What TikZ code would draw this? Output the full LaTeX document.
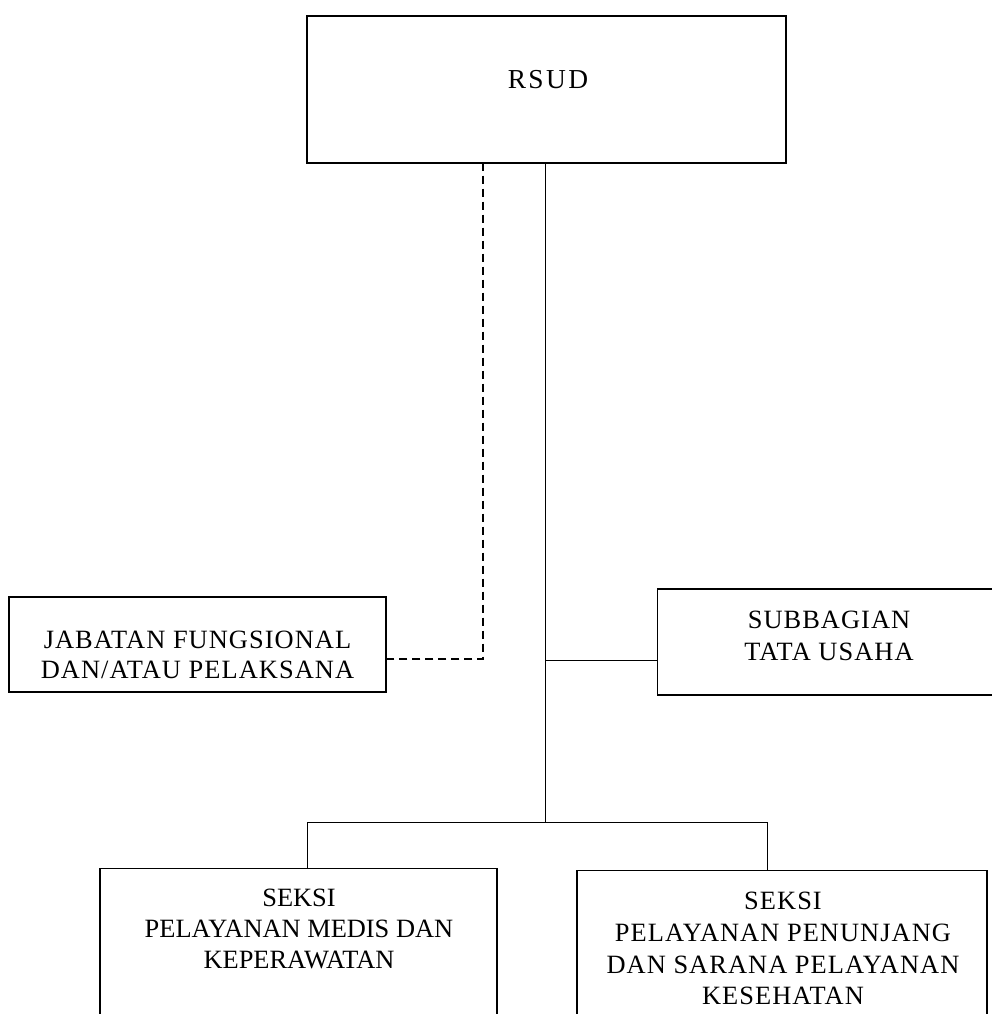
\documentclass[tikz,border=0pt]{standalone}
\usepackage{fontspec}
\setmainfont{Liberation Serif}
\newfontfamily\widefont[LetterSpace=4]{Liberation Serif}
\newfontfamily\rsudfont[LetterSpace=9]{Liberation Serif}
\newfontfamily\narrowfont{Liberation Serif}
\begin{document}
\begin{tikzpicture}[x=1bp,y=-1bp,
  box/.style={draw=black, line width=1.6bp, inner sep=0pt, outer sep=0pt, fill=none},
  txt/.style={inner sep=0pt, align=center, font=\widefont\fontsize{26.5}{32}\selectfont},
  ntxt/.style={inner sep=0pt, align=center, font=\narrowfont\fontsize{26.5}{31}\selectfont},
  conn/.style={draw=black, line width=1bp},
  dconn/.style={draw=black, line width=1.4bp, dash pattern=on 8bp off 5bp}]
\useasboundingbox (0,0) rectangle (992,1014);
\clip (0,0) rectangle (992,1014);
\fill[white] (0,0) rectangle (992,1014);
% boxes
\node[box, minimum width=481, minimum height=147] (rsud) at (546.5,89.5) {};
\node[box, minimum width=379, minimum height=95] (jf) at (197.5,644.5) {};
\node[box, minimum width=344, minimum height=106] (tu) at (829,642) {};
\node[box, minimum width=399, minimum height=200] (med) at (298.5,968) {};
\node[box, minimum width=412, minimum height=200] (ppk) at (782,970) {};
% texts
\node[inner sep=0pt, font=\rsudfont\fontsize{27.5}{32}\selectfont] (rsudt) at (548,80) {RSUD};
\node[txt, font=\widefont\fontsize{26.5}{30}\selectfont] (jft) at (197.5,655) {JABATAN FUNGSIONAL\\DAN/ATAU PELAKSANA};
\node[txt] (tut) at (829,636) {SUBBAGIAN\\TATA USAHA};
\node[ntxt] (medt) at (299,929) {SEKSI\\PELAYANAN MEDIS DAN\\KEPERAWATAN};
\node[txt] (ppkt) at (783,948.5) {SEKSI\\PELAYANAN PENUNJANG\\DAN SARANA PELAYANAN\\KESEHATAN};
% junctions
\coordinate (jtu) at (545,660);
\coordinate (jbar) at (545,822);
\coordinate (jl) at (307,822);
\coordinate (jr) at (767,822);
\coordinate (dc) at (483,659);
% connectors
\draw[conn] (rsud.south -| jtu) -- (jbar);
\draw[conn] (jtu) -- (jtu -| tu.west);
\draw[conn] (jl) -- (jr);
\draw[conn] (jl) -- (jl |- med.north);
\draw[conn] (jr) -- (jr |- ppk.north);
\draw[dconn] (rsud.south -| dc) -- (dc) -- (dc -| jf.east);
\end{tikzpicture}
\end{document}
